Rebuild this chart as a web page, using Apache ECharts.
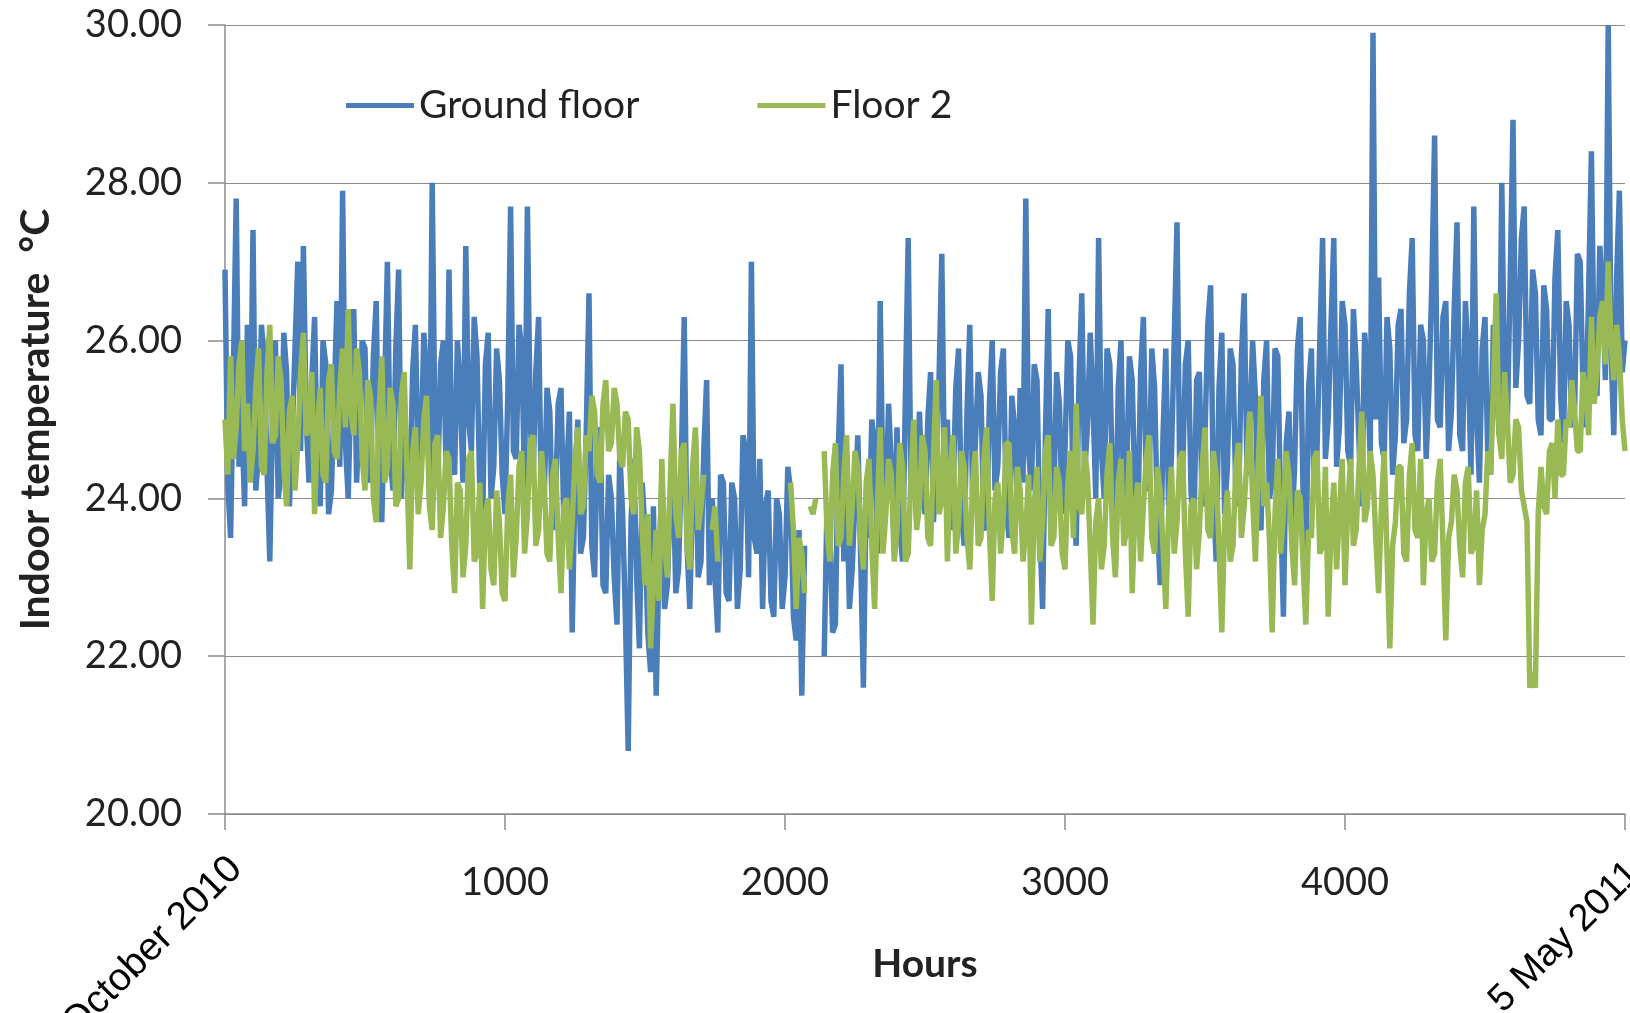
<!DOCTYPE html>
<html lang="en">
<head>
  <meta charset="UTF-8">
  <title>Indoor temperature</title>
  <script src="https://cdn.jsdelivr.net/npm/echarts@6/dist/echarts.min.js"></script>
  <style>
    html, body { margin: 0; padding: 0; background: #fff; }
    #chart { width: 1630px; height: 1013px; }
  </style>
</head>
<body>
  <div id="chart"></div>
<script>
  // readings every 10 hours (null = no data)
  const STEP = 10;

  const GROUND = [
    26.9, 24.2, 23.5, 25.6, 27.8, 24.4, 25.0, 23.9, 26.2, 24.5,
    27.4, 24.1, 24.6, 26.2, 25.8, 24.4, 23.2, 25.1, 26.0, 24.0,
    24.3, 26.1, 25.6, 23.9, 24.8, 25.9, 27.0, 24.6, 27.2, 25.0,
    24.2, 25.5, 26.3, 24.3, 23.9, 26.0, 25.7, 23.8, 24.1, 25.3,
    26.5, 24.4, 27.9, 24.7, 24.0, 25.5, 26.4, 24.2, 25.1, 26.0,
    25.9, 24.2, 24.4, 25.8, 26.5, 24.1, 23.7, 25.4, 27.0, 24.5,
    24.1, 25.9, 26.9, 24.0, 25.3, 24.3, 23.9, 25.6, 26.2, 24.4,
    24.5, 26.1, 25.6, 24.0, 28.0, 24.8, 24.2, 25.7, 26.0, 24.3,
    26.9, 24.5, 24.3, 26.0, 25.4, 24.2, 27.2, 25.0, 24.6, 26.3,
    25.8, 24.1, 23.7, 25.7, 26.1, 24.0, 24.4, 25.9, 25.5, 24.3,
    23.8, 25.3, 27.7, 24.6, 24.5, 26.2, 25.9, 24.1, 27.7, 25.0,
    24.2, 25.6, 26.3, 23.9, 24.0, 25.4, 25.1, 23.6, 23.9, 25.2,
    25.4, 23.7, 24.3, 25.1, 22.3, 24.2, 25.0, 23.3, 23.5, 24.8,
    26.6, 23.4, 23.0, 24.7, 24.9, 22.9, 22.8, 24.3, 24.0, 23.0,
    22.4, 24.6, 23.8, 22.5, 20.8, 23.7, 24.5, 23.0, 22.1, 24.2,
    23.6, 22.3, 21.8, 23.9, 21.5, 23.2, 24.2, 22.6, 22.9, 24.0,
    24.4, 22.8, 23.1, 24.5, 26.3, 23.4, 22.6, 24.1, 24.8, 23.0,
    23.2, 24.6, 25.5, 22.9, 24.0, 23.0, 22.3, 24.3, 24.2, 22.8,
    22.7, 24.2, 24.0, 22.6, 23.1, 24.8, 24.6, 23.0, 27.0, 23.5,
    23.3, 24.5, 22.6, 23.9, 24.1, 22.7, 22.5, 24.0, 23.8, 22.6,
    23.0, 24.4, 24.1, 22.5, 22.2, 23.6, 21.5, 23.4, null, null,
    null, null, null, null, 22.0, 23.9, 23.6, 22.3, 22.4, 24.6,
    25.7, 23.2, 24.3, 22.6, 23.1, 24.0, 24.8, 23.3, 21.6, 24.1,
    23.5, 25.0, 24.7, 23.3, 26.5, 24.0, 23.9, 25.2, 24.4, 23.4,
    24.9, 23.6, 23.2, 25.3, 27.3, 24.0, 24.6, 23.7, 25.1, 24.2,
    23.8, 25.0, 25.6, 23.7, 24.3, 25.5, 27.1, 24.1, 25.0, 23.6,
    24.0, 25.4, 25.9, 23.8, 23.4, 25.1, 26.2, 24.0, 24.7, 25.6,
    25.3, 23.7, 23.6, 25.2, 26.0, 24.1, 24.4, 25.6, 25.9, 23.9,
    23.5, 25.3, 24.9, 23.8, 25.4, 24.2, 27.8, 24.6, 24.1, 25.7,
    25.5, 23.6, 22.6, 24.8, 26.4, 23.9, 24.0, 25.6, 25.2, 23.8,
    24.6, 26.0, 25.8, 23.9, 23.4, 25.5, 26.6, 24.3, 24.9, 26.1,
    25.2, 24.0, 27.3, 24.6, 24.0, 25.9, 25.7, 24.2, 23.1, 25.4,
    26.0, 23.8, 24.3, 25.8, 25.5, 24.0, 23.6, 25.6, 26.3, 24.2,
    24.1, 25.9, 25.4, 23.7, 22.9, 24.8, 25.9, 23.9, 24.5, 26.0,
    27.5, 24.2, 24.3, 25.7, 26.0, 24.1, 23.5, 25.5, 25.6, 23.9,
    24.8, 26.2, 26.7, 24.0, 23.2, 25.4, 26.1, 23.8, 24.4, 25.9,
    25.7, 24.1, 23.9, 25.8, 26.6, 24.3, 24.9, 26.0, 25.3, 23.7,
    23.6, 25.5, 26.0, 24.0, 24.2, 25.9, 25.8, 23.9, 22.5, 24.7,
    25.1, 23.6, 24.4, 25.9, 26.3, 24.1, 23.0, 25.4, 25.9, 24.0,
    24.6, 26.0, 27.3, 24.5, 25.0, 26.2, 27.3, 24.4, 24.9, 26.5,
    26.2, 24.6, 24.4, 26.4, 25.7, 24.7, 23.9, 26.1, 25.6, 24.5,
    29.9, 25.0, 26.8, 24.7, 24.5, 26.3, 25.9, 24.3, 24.8, 26.2,
    26.4, 24.7, 25.0, 26.6, 27.3, 24.8, 24.6, 26.2, 26.0, 24.5,
    25.4, 26.7, 28.6, 25.0, 24.9, 26.3, 26.5, 24.6, 25.1, 26.4,
    27.5, 24.8, 24.6, 26.5, 25.8, 24.3, 27.7, 25.0, 24.2, 25.9,
    26.3, 24.5, 24.3, 26.2, 25.6, 24.8, 28.0, 25.3, 25.0, 26.8,
    28.8, 25.4, 26.0, 27.3, 27.7, 25.3, 25.2, 26.9, 26.6, 25.0,
    24.8, 26.7, 26.4, 25.0, 25.0, 26.8, 27.4, 25.3, 24.7, 26.5,
    26.2, 24.9, 25.1, 27.1, 27.0, 25.4, 24.9, 26.6, 28.4, 25.6,
    25.3, 27.2, 26.6, 25.5, 30.0, 25.9, 24.8, 26.8, 27.9, 25.6,
    26.0
  ];

  const FLOOR2 = [
    25.0, 24.3, 25.8, 24.5, 24.9, 25.7, 26.0, 24.6, 25.2, 24.2,
    24.6, 25.4, 25.9, 24.4, 24.3, 25.6, 26.2, 24.7, 24.8, 25.8,
    25.5, 24.4, 23.9, 25.1, 25.3, 24.1, 24.7, 25.6, 26.1, 24.8,
    24.9, 25.6, 23.8, 24.9, 25.4, 24.3, 24.2, 25.5, 25.7, 24.6,
    24.5, 25.4, 25.9, 24.9, 26.4, 25.1, 24.8, 25.9, 25.6, 24.5,
    24.1, 25.5, 25.3, 24.0, 23.7, 25.1, 25.8, 24.2, 24.4, 25.4,
    25.2, 23.9, 24.0, 25.3, 25.6, 24.3, 23.1, 24.6, 24.9, 23.8,
    24.2, 25.0, 25.3, 23.9, 23.6, 24.7, 24.8, 23.5, 23.9, 24.6,
    24.5, 23.4, 22.8, 24.2, 24.1, 23.0, 23.4, 24.5, 24.6, 23.2,
    23.3, 24.2, 22.6, 23.8, 24.0, 23.1, 22.9, 24.1, 23.7, 22.8,
    22.7, 23.9, 24.3, 23.0, 23.5, 24.4, 24.6, 23.3, 23.8, 24.7,
    24.8, 23.4, 23.6, 24.6, 24.2, 23.3, 23.2, 24.3, 24.5, 23.5,
    22.8, 23.9, 24.0, 23.1, 23.7, 24.5, 24.9, 23.8, 23.9, 24.8,
    24.6, 25.3, 25.1, 24.3, 24.2, 25.2, 25.5, 24.6, 24.7, 25.4,
    25.2, 24.5, 24.4, 25.1, 25.0, 24.0, 23.8, 24.9, 24.6, 23.6,
    22.9, 23.8, 22.1, 22.9, 23.6, 22.7, 24.5, 23.4, 23.0, 24.2,
    25.2, 23.8, 23.5, 24.6, 24.7, 23.4, 23.1, 24.4, 24.9, 23.6,
    23.9, 24.3, null, null, 23.6, 23.9, 23.2, null, null, null,
    null, null, null, null, null, null, null, null, null, null,
    null, null, null, null, null, null, null, null, null, null,
    null, null, 24.2, 23.6, 22.6, 23.5, 23.3, 22.8, null, 23.9,
    23.8, 24.0, null, null, 24.6, 23.6, 23.2, 24.3, 24.7, 23.4,
    23.5, 24.3, 24.8, 23.4, 23.9, 24.6, 24.4, 23.5, 23.1, 24.2,
    24.5, 23.4, 22.6, 23.9, 24.9, 23.3, 23.8, 24.5, 24.3, 23.2,
    23.6, 24.7, 24.4, 23.2, 23.3, 24.3, 25.0, 23.6, 23.9, 24.8,
    24.6, 23.5, 23.4, 24.5, 25.5, 23.8, 24.0, 24.9, 23.2, 24.4,
    24.8, 23.3, 23.7, 24.6, 24.4, 23.5, 23.1, 24.2, 24.6, 23.4,
    23.5, 24.5, 24.9, 23.6, 22.7, 24.0, 24.2, 23.3, 23.8, 24.7,
    24.7, 23.6, 23.3, 24.4, 24.1, 23.2, 23.6, 24.3, 22.4, 23.9,
    24.4, 23.2, 23.7, 24.6, 24.8, 23.4, 23.5, 24.4, 24.2, 23.3,
    23.1, 24.2, 24.6, 23.5, 25.2, 23.9, 23.8, 24.6, 24.3, 23.4,
    22.4, 23.7, 24.0, 23.1, 23.4, 24.3, 24.7, 23.5, 23.0, 24.2,
    24.5, 23.4, 23.6, 24.6, 22.8, 23.9, 24.2, 23.2, 23.9, 24.5,
    24.8, 23.5, 23.3, 24.4, 24.1, 23.4, 22.6, 23.8, 24.4, 23.3,
    23.7, 24.5, 24.6, 23.3, 22.5, 23.9, 24.0, 23.1, 23.6, 24.4,
    24.9, 23.6, 23.5, 24.6, 24.3, 23.4, 22.3, 23.7, 24.1, 23.2,
    23.4, 24.4, 24.7, 23.5, 23.9, 24.5, 25.1, 24.0, 23.2, 24.4,
    25.3, 23.9, 24.2, 23.5, 22.3, 23.8, 24.5, 23.3, 23.8, 24.6,
    24.3, 23.4, 22.9, 24.1, 24.0, 23.2, 22.4, 23.6, 23.5, 24.5,
    24.6, 23.3, 23.4, 24.4, 22.5, 23.6, 24.2, 23.1, 23.8, 24.5,
    22.9, 23.9, 24.5, 23.4, 23.6, 24.4, 25.1, 23.7, 23.9, 24.6,
    24.3, 23.5, 22.8, 23.9, 24.6, 23.3, 22.1, 23.4, 23.7, 24.4,
    24.4, 23.3, 23.2, 24.3, 24.7, 23.6, 23.5, 24.5, 22.9, 23.8,
    24.0, 23.2, 23.3, 24.2, 24.5, 23.4, 22.2, 23.5, 23.7, 24.3,
    24.1, 23.4, 23.0, 24.2, 24.4, 23.3, 23.4, 24.1, 22.9, 23.6,
    23.8, 24.6, 24.3, 25.4, 26.6, 24.8, 24.5, 25.6, 25.0, 24.2,
    24.3, 25.0, 24.9, 24.1, 23.9, 23.7, 21.6, 21.8, 21.6, 23.8,
    24.4, 23.9, 23.8, 24.6, 24.7, 24.0, 25.0, 24.3, 24.3, 25.0,
    24.9, 25.5, 25.1, 24.6, 24.6, 25.6, 25.4, 24.8, 26.3, 25.2,
    25.6, 26.3, 26.5, 25.7, 27.0, 26.0, 25.5, 26.2, 25.8, 25.0,
    24.6
  ];

  const SERIES_NAMES = ['Ground floor', 'Floor 2'];
  const START_LABEL = 'October 2010';
  const END_LABEL = '5 May 2011';

  function pairs(values) {
    return values.map((v, i) => [i * STEP, v]);
  }

  const chart = echarts.init(document.getElementById('chart'));

  const labelFont = 'Lato, "Open Sans", sans-serif';

  const option = {
    animation: false,
    backgroundColor: '#fff',
    grid: { left: 225, right: 5, top: 25, bottom: 199 },
    legend: {
      data: SERIES_NAMES,
      left: 346,
      top: 86,
      padding: 0,
      icon: 'rect',
      itemWidth: 68,
      itemHeight: 5,
      itemGap: 118,
      textStyle: { fontFamily: labelFont, fontSize: 39, color: '#222' }
    },
    xAxis: {
      type: 'value',
      min: 0,
      max: 5000,
      interval: 1000,
      name: 'Hours',
      nameLocation: 'middle',
      nameGap: 131,
      nameTextStyle: { fontFamily: labelFont, fontSize: 39, fontWeight: 'bold', color: '#222' },
      axisLine: { show: true, lineStyle: { color: '#8c8c8c', width: 1.5 } },
      axisTick: { show: true, length: 16, lineStyle: { color: '#8c8c8c', width: 1.5 } },
      splitLine: { show: false },
      axisLabel: {
        margin: 50,
        fontFamily: labelFont,
        fontSize: 38,
        color: '#222',
        formatter: v => (v === 0 || v === 5000) ? '' : String(v)
      }
    },
    yAxis: {
      type: 'value',
      min: 20,
      max: 30,
      interval: 2,
      name: 'Indoor temperature  °C',
      nameLocation: 'middle',
      nameGap: 169,
      nameTextStyle: { fontFamily: labelFont, fontSize: 41, fontWeight: 'bold', color: '#222' },
      axisLine: { show: true, lineStyle: { color: '#8c8c8c', width: 1.5 } },
      axisTick: { show: true, length: 17, lineStyle: { color: '#8c8c8c', width: 1.5 } },
      splitLine: { show: true, lineStyle: { color: '#8c8c8c', width: 1.2 } },
      axisLabel: {
        margin: 43,
        fontFamily: labelFont,
        fontSize: 38,
        color: '#222',
        formatter: v => v.toFixed(2)
      }
    },
    series: [
      {
        name: SERIES_NAMES[0],
        type: 'line',
        data: pairs(GROUND),
        showSymbol: false,
        connectNulls: false,
        color: '#4a7ebb',
        lineStyle: { width: 5.5, color: '#4a7ebb' },
        z: 2
      },
      {
        name: SERIES_NAMES[1],
        type: 'line',
        data: pairs(FLOOR2),
        showSymbol: false,
        connectNulls: false,
        color: '#98b954',
        lineStyle: { width: 5.5, color: '#98b954' },
        z: 3
      }
    ],
    graphic: [
      {
        type: 'text',
        x: 236, y: 863,
        rotation: Math.PI / 4,
        style: {
          text: START_LABEL,
          font: '39px "Liberation Sans", Arial, sans-serif',
          fill: '#000',
          align: 'right',
          verticalAlign: 'middle'
        }
      },
      {
        type: 'text',
        x: 1634, y: 868,
        rotation: Math.PI / 4,
        style: {
          text: END_LABEL,
          font: '38px "Liberation Sans", Arial, sans-serif',
          fill: '#000',
          align: 'right',
          verticalAlign: 'middle'
        }
      }
    ]
  };

  chart.setOption(option);
</script>
</body>
</html>
